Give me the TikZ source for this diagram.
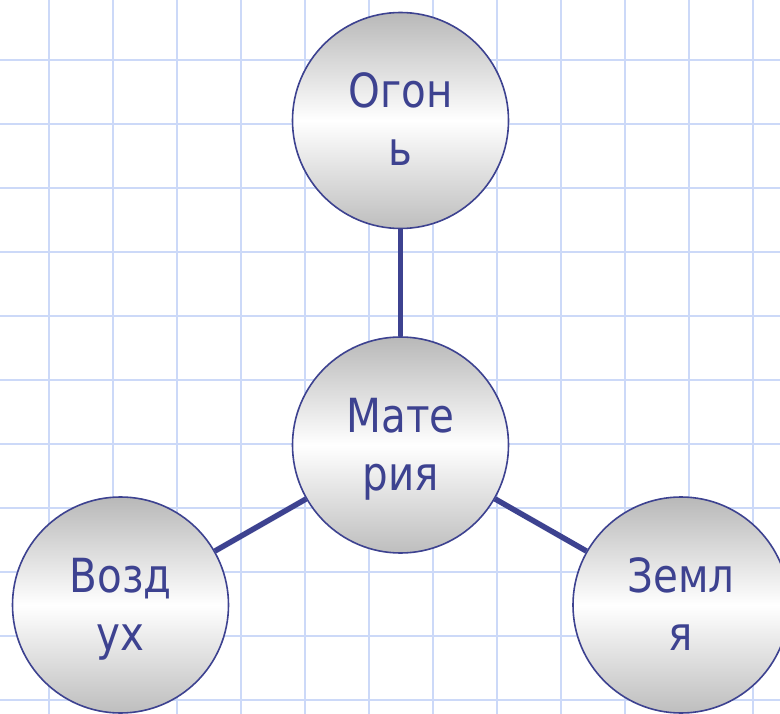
\documentclass[tikz,border=0pt]{standalone}
\usepackage{fontspec}
\setmainfont{DejaVu Sans}[FakeStretch=0.86]
\usetikzlibrary{calc}
\definecolor{gridc}{HTML}{CCD9F8}
\definecolor{inkc}{HTML}{3D4290}
\definecolor{shadec}{HTML}{B8B8B8}
\tikzset{
  ball/.style={circle, minimum size=216pt, inner sep=0pt, draw=inkc, line width=1.6pt,
    top color=shadec, bottom color=shadec!92!white, middle color=white},
  txt/.style={anchor=base, text=inkc, font=\fontsize{47}{58}\selectfont, inner sep=0pt},
  link/.style={draw=inkc, line width=5.5pt}
}
\begin{document}
\begin{tikzpicture}[x=1pt,y=-1pt]
\useasboundingbox (0,0) rectangle (780,714);
\fill[white] (0,0) rectangle (780,714);
\clip (0,0) rectangle (780,714);
\foreach \x in {49,113,...,753} \draw[gridc, line width=2.2pt] (\x,0) -- (\x,714);
\foreach \y in {60,124,...,700} \draw[gridc, line width=2.2pt] (0,\y) -- (780,\y);
\node[ball] (fire) at (400.5,120.5) {};
\node[ball] (mat) at (400.5,445) {};
\node[ball] (air) at (120.5,605) {};
\node[ball] (earth) at (681,605) {};
\draw[link] (mat) -- (fire);
\draw[link] (mat) -- (air);
\draw[link] (mat) -- (earth);
\node[txt] (fire1) at ($(fire)+(0,-12.5)$) {Огон};
\node[txt] (fire2) at ($(fire)+(0,45.5)$) {ь};
\node[txt] (mat1) at ($(mat)+(0,-12.5)$) {Мате};
\node[txt] (mat2) at ($(mat)+(0,45.5)$) {рия};
\node[txt] (air1) at ($(air)+(0,-12.5)$) {Возд};
\node[txt] (air2) at ($(air)+(0,45.5)$) {ух};
\node[txt] (earth1) at ($(earth)+(0,-12.5)$) {Земл};
\node[txt] (earth2) at ($(earth)+(0,45.5)$) {я};
\end{tikzpicture}
\end{document}
